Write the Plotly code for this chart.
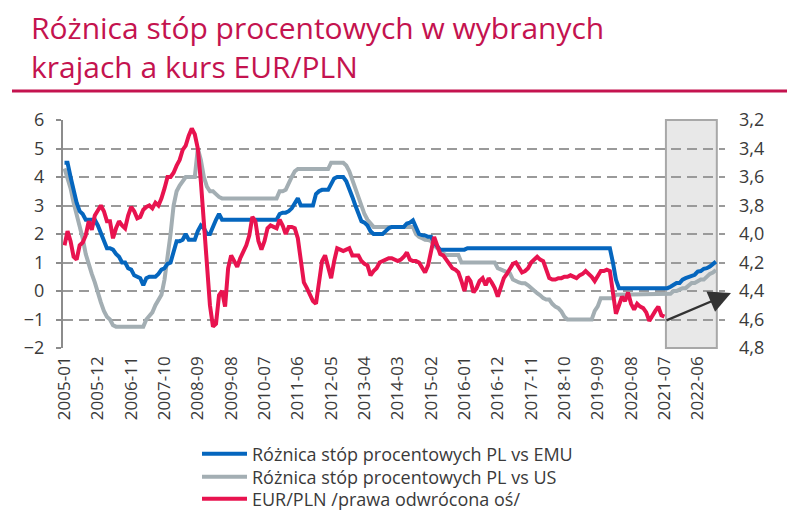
import plotly.graph_objects as go

# ---------------- data ----------------
months = [f"{y}-{m:02d}" for y in range(2005, 2023) for m in range(1, 13)]

tick_labels = months[::11]

emu_diff = [
    4.5, 4.5, 4.0, 3.5, 3.1, 2.8, 2.7, 2.5, 2.5, 2.5, 2.5, 2.3,
    2.0, 1.75, 1.5, 1.5, 1.45, 1.3, 1.2, 1.0, 1.0, 0.8, 0.75, 0.55,
    0.5, 0.45, 0.2, 0.45, 0.5, 0.5, 0.5, 0.6, 0.75, 0.8, 0.95, 1.0,
    1.4, 1.75, 1.75, 1.8, 2.0, 1.8, 1.8, 1.8, 2.1, 2.3, 2.2, 2.0,
    2.0, 2.3, 2.5, 2.7, 2.5, 2.5, 2.5, 2.5, 2.5, 2.5, 2.5, 2.5,
    2.5, 2.5, 2.5, 2.5, 2.5, 2.5, 2.5, 2.5, 2.5, 2.5, 2.5, 2.7,
    2.75, 2.75, 2.8, 2.9, 3.1, 3.25, 3.0, 3.0, 3.0, 3.0, 3.0, 3.4,
    3.5, 3.55, 3.55, 3.55, 3.75, 3.95, 4.0, 4.0, 4.0, 3.85, 3.6, 3.3,
    3.0, 2.7, 2.45, 2.4, 2.3, 2.1, 2.0, 2.0, 2.0, 2.0, 2.1, 2.2,
    2.25, 2.25, 2.25, 2.25, 2.25, 2.37, 2.4, 2.48, 2.2, 2.0, 1.96, 1.95,
    1.9, 1.9, 1.7, 1.55, 1.45, 1.45, 1.45, 1.45, 1.45, 1.45, 1.45, 1.45,
    1.45, 1.5, 1.5, 1.5, 1.5, 1.5, 1.5, 1.5, 1.5, 1.5, 1.5, 1.5,
    1.5, 1.5, 1.5, 1.5, 1.5, 1.5, 1.5, 1.5, 1.5, 1.5, 1.5, 1.5,
    1.5, 1.5, 1.5, 1.5, 1.5, 1.5, 1.5, 1.5, 1.5, 1.5, 1.5, 1.5,
    1.5, 1.5, 1.5, 1.5, 1.5, 1.5, 1.5, 1.5, 1.5, 1.5, 1.5, 1.5,
    1.5, 1.0, 0.4, 0.1, 0.1, 0.1, 0.1, 0.1, 0.1, 0.1, 0.1, 0.1,
    0.1, 0.1, 0.1, 0.1, 0.1, 0.1, 0.1, 0.1, 0.15, 0.22, 0.28, 0.28,
    0.4, 0.45, 0.5, 0.55, 0.57, 0.68, 0.7, 0.78, 0.8, 0.86, 0.97, 1.03,
]

us_diff = [
    4.3, 3.95, 3.6, 3.1, 2.7, 2.3, 1.85, 1.3, 0.9, 0.6, 0.3, -0.1,
    -0.4, -0.7, -0.9, -1.0, -1.2, -1.25, -1.25, -1.25, -1.25, -1.25, -1.25, -1.25,
    -1.25, -1.25, -1.25, -1.0, -0.85, -0.75, -0.5, -0.3, -0.13, 0.4, 1.1, 2.0,
    3.0, 3.5, 3.7, 3.85, 4.0, 4.0, 4.0, 4.0, 5.0, 4.6, 4.0, 3.66,
    3.5, 3.5, 3.4, 3.3, 3.25, 3.25, 3.25, 3.25, 3.25, 3.25, 3.25, 3.25,
    3.25, 3.25, 3.25, 3.25, 3.25, 3.25, 3.25, 3.25, 3.25, 3.25, 3.25, 3.5,
    3.5, 3.55, 3.8, 4.0, 4.2, 4.28, 4.28, 4.28, 4.28, 4.28, 4.28, 4.28,
    4.28, 4.28, 4.28, 4.28, 4.5, 4.5, 4.5, 4.5, 4.5, 4.4, 4.2, 3.9,
    3.6, 3.2, 2.9, 2.7, 2.5, 2.35, 2.25, 2.25, 2.25, 2.25, 2.25, 2.25,
    2.25, 2.25, 2.25, 2.25, 2.25, 2.25, 2.25, 2.25, 2.0, 1.9, 1.85, 1.8,
    1.79, 1.75, 1.6, 1.5, 1.4, 1.32, 1.26, 1.26, 1.26, 1.26, 1.26, 1.0,
    1.0, 1.0, 1.0, 1.0, 1.0, 1.0, 1.0, 1.0, 1.0, 1.0, 1.0, 0.8,
    0.75, 0.7, 0.65, 0.62, 0.4, 0.33, 0.3, 0.27, 0.27, 0.2, 0.1, 0.0,
    -0.08, -0.15, -0.25, -0.3, -0.3, -0.45, -0.55, -0.6, -0.72, -0.9, -1.0, -1.0,
    -1.0, -1.0, -1.0, -1.0, -1.0, -1.0, -1.0, -0.7, -0.54, -0.25, -0.25, -0.25,
    -0.25, -0.25, -0.13, -0.13, -0.13, -0.13, -0.13, -0.13, -0.13, -0.13, -0.13, -0.13,
    -0.13, -0.13, -0.13, -0.13, -0.13, -0.13, -0.13, -0.13, -0.1, 0.0, 0.0, 0.05,
    0.1, 0.1, 0.2, 0.28, 0.28, 0.35, 0.4, 0.4, 0.5, 0.6, 0.65, 0.74,
]

eurpln = [
    4.08, 3.98, 4.05, 4.16, 4.18, 4.08, 4.06, 4.01, 3.91, 3.97, 3.87, 3.84,
    3.80, 3.84, 3.91, 3.91, 4.03, 3.96, 3.91, 3.94, 3.96, 3.87, 3.81, 3.84,
    3.89, 3.88, 3.83, 3.81, 3.80, 3.82, 3.78, 3.80, 3.75, 3.68, 3.60, 3.60,
    3.57, 3.52, 3.48, 3.41, 3.38, 3.31, 3.26, 3.30, 3.40, 3.63, 3.94, 4.24,
    4.50, 4.65, 4.63, 4.43, 4.40, 4.51, 4.24, 4.15, 4.19, 4.23, 4.17, 4.12,
    4.08, 4.01, 3.88, 3.91, 4.05, 4.11, 4.05, 3.96, 3.94, 3.95, 3.96, 3.90,
    3.94, 4.00, 3.95, 3.95, 3.96, 4.03, 4.19, 4.34, 4.38, 4.42, 4.47, 4.49,
    4.33, 4.19, 4.15, 4.22, 4.31, 4.19, 4.10, 4.11, 4.12, 4.11, 4.10, 4.15,
    4.15, 4.15, 4.19, 4.21, 4.22, 4.29, 4.26, 4.24, 4.20, 4.19, 4.18, 4.17,
    4.17, 4.18, 4.19, 4.18, 4.16, 4.13, 4.18, 4.19, 4.19, 4.20, 4.23, 4.27,
    4.22, 4.12, 4.02, 4.08, 4.14, 4.15, 4.18, 4.21, 4.24, 4.25, 4.27, 4.33,
    4.40, 4.30, 4.33, 4.41, 4.38, 4.33, 4.31, 4.36, 4.31, 4.34, 4.38, 4.44,
    4.37, 4.31, 4.28, 4.25, 4.21, 4.20, 4.23, 4.27, 4.26, 4.24, 4.20, 4.18,
    4.16, 4.18, 4.19, 4.25, 4.31, 4.32, 4.32, 4.31, 4.31, 4.30, 4.30, 4.29,
    4.30, 4.31, 4.29, 4.28, 4.26, 4.28, 4.30, 4.33, 4.29, 4.26, 4.26, 4.25,
    4.26, 4.40, 4.56, 4.50, 4.44, 4.47, 4.41, 4.49, 4.53, 4.49, 4.51, 4.52,
    4.55, 4.61, 4.57, 4.54, 4.51, 4.57, 4.58,
]

series_names = [
    "Różnica stóp procentowych PL vs EMU",
    "Różnica stóp procentowych PL vs US",
    "EUR/PLN /prawa odwrócona oś/",
]

title_lines = ["Różnica stóp procentowych w wybranych", "krajach a kurs EUR/PLN"]

forecast_start = "2021-08"
forecast_end = "2022-12"

# ---------------- styling ----------------
BLUE = "#0566BE"
GRAY = "#A3AEB3"
RED = "#E8134F"
TITLE_C = "#C4134F"
GRID_C = "#9A9A9A"
TXT = "#3A3A3A"

OFF = 8                      # page body margin of the html page
W, H = 800 - OFF, 528 - OFF  # figure size so it fits the window
# plot area in page pixels: x 63..725, y 120..348
L = 63 - OFF
T = 120 - OFF
R = W - (725 - OFF)
B = H - (348 - OFF)
pw, ph = W - L - R, H - T - B


def px_x(px):  # page pixel -> paper x
    return (px - OFF - L) / pw


def px_y(py):  # page pixel -> paper y
    return (H - B - (py - OFF)) / ph


idx = {m: i for i, m in enumerate(months)}

fig = go.Figure()

fig.add_trace(go.Scatter(
    x=months[:len(us_diff)], y=us_diff, name=series_names[1], mode="lines",
    line=dict(color=GRAY, width=4), legend="legend2", yaxis="y"))
fig.add_trace(go.Scatter(
    x=months[:len(emu_diff)], y=emu_diff, name=series_names[0], mode="lines",
    line=dict(color=BLUE, width=4), legend="legend", yaxis="y"))
fig.add_trace(go.Scatter(
    x=months[:len(eurpln)], y=eurpln, name=series_names[2], mode="lines",
    line=dict(color=RED, width=4), legend="legend3", yaxis="y2"))

# forecast shading
fig.add_shape(type="rect", xref="x", yref="paper",
              x0=idx[forecast_start] - 0.5, x1=idx[forecast_end] + 0.3, y0=0, y1=1,
              fillcolor="#E8E8E8", line=dict(color="#A8A8A8", width=2), layer="below")

# title rule
fig.add_shape(type="line", xref="paper", yref="paper",
              x0=px_x(12), x1=px_x(787), y0=px_y(91), y1=px_y(91),
              line=dict(color=TITLE_C, width=3))

# title
fig.add_annotation(xref="paper", yref="paper", x=px_x(29), y=px_y(5),
                   xanchor="left", yanchor="top", align="left", showarrow=False,
                   text="<br>".join(title_lines),
                   font=dict(family="Open Sans, Lato, sans-serif", size=30,
                             color=TITLE_C))

# arrow
fig.add_annotation(xref="paper", yref="paper",
                   x=px_x(731), y=px_y(293),
                   ax=-66, ay=28, showarrow=True, text="",
                   arrowhead=2, arrowsize=2.0, arrowwidth=2.2, arrowcolor="#333333",
                   standoff=0)

legend_common = dict(xanchor="left", yanchor="middle", orientation="v",
                     font=dict(size=18, color=TXT), itemwidth=45,
                     bgcolor="rgba(0,0,0,0)")

fig.update_layout(
    width=W, height=H,
    margin=dict(l=L, r=R, t=T, b=B, autoexpand=False),
    paper_bgcolor="white", plot_bgcolor="white",
    separators=", ",
    font=dict(family="Open Sans, Liberation Sans, sans-serif", color=TXT, size=15),
    xaxis=dict(type="category", range=[-0.5, 218], tickmode="array",
               tickvals=tick_labels, ticktext=tick_labels, tickangle=-90,
               showgrid=False, showline=False, ticks="", zeroline=False,
               ticklabelstandoff=4,
               automargin=False, tickfont=dict(size=17, color=TXT)),
    yaxis=dict(range=[-2, 6], dtick=1, tick0=-2, showgrid=True,
               gridcolor=GRID_C, gridwidth=2, griddash="10px,6px",
               showline=True, linecolor="#8C8C8C", linewidth=2,
               ticks="outside", ticklen=5, tickcolor="#8C8C8C", tickwidth=2,
               ticklabelstandoff=8,
               zeroline=False, automargin=False, tickfont=dict(size=18, color=TXT)),
    yaxis2=dict(range=[4.8, 3.2], overlaying="y", side="right",
                tickvals=[3.2, 3.4, 3.6, 3.8, 4.0, 4.2, 4.4, 4.6, 4.8],
                tickformat=".1f", showgrid=False, showline=False, zeroline=False,
                ticks="", ticklabelstandoff=13, automargin=False,
                tickfont=dict(size=18, color=TXT)),
    legend=dict(x=px_x(197), y=px_y(454), **legend_common),
    legend2=dict(x=px_x(197), y=px_y(477), **legend_common),
    legend3=dict(x=px_x(197), y=px_y(499), **legend_common),
    showlegend=True,
)

fig.write_html("out.html")
